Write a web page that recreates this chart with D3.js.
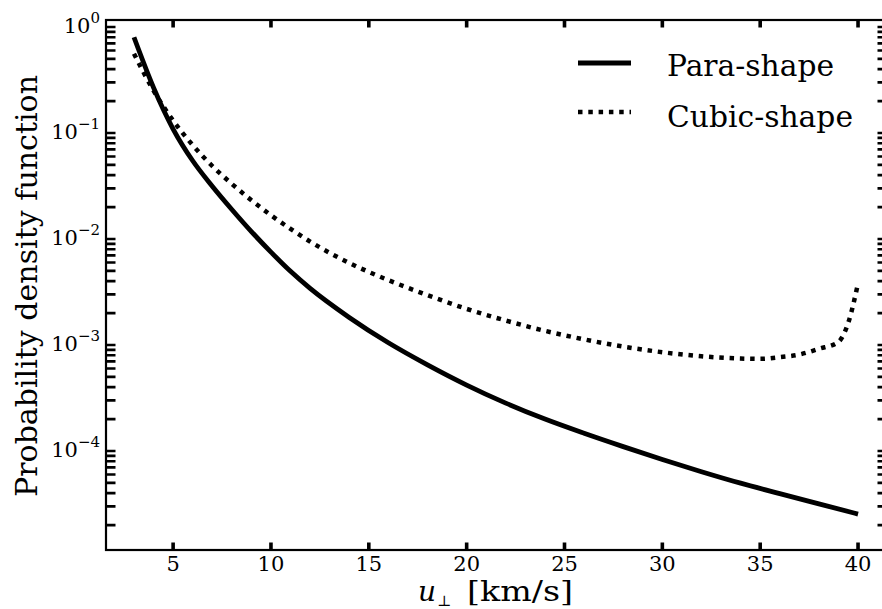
<!DOCTYPE html>
<html><head><meta charset="utf-8">
<script src="https://cdn.jsdelivr.net/npm/d3@7"></script>
<style>
html,body{margin:0;padding:0;background:#fff;} svg{display:block}
</style>
</head><body><svg id="c" width="882" height="609" font-family="DejaVu Serif"></svg>
<script>
// ---- data ----
const paraX = [3,4,5,6,7,8,9,10,11,12,14,16,18,20,22,24,26,28,30,32,34,36,38,40];
const paraY = [0.80,0.268,0.109,0.0547,0.0315,0.0190,0.01175,0.00752,0.00495,0.00342,0.00182,0.00105,0.00065,0.000419,0.000283,0.000200,0.000147,0.000110,0.0000832,0.0000638,0.0000497,0.0000396,0.0000317,0.0000254];
const cubicX = [3,4,5,6,7,8,9,10,11,12,13,14,15,16,18,20,22,24,26,28,30,32,34,35,36,37,38,39,39.5,40];
const cubicY = [0.56,0.251,0.131,0.0769,0.0488,0.0331,0.0232,0.01675,0.01245,0.00946,0.0074,0.00594,0.00489,0.00409,0.00295,0.00219,0.00170,0.00136,0.00113,0.000966,0.000855,0.000783,0.000745,0.00074,0.000767,0.000813,0.00092,0.00107,0.00162,0.00382];
const seriesNames = ["Para-shape", "Cubic-shape"];
const xTickValues = [5,10,15,20,25,30,35,40];
const yTickExponents = [0,-1,-2,-3,-4];
const xLabelMain = "u";
const xLabelSub = "\u22A5";
const xLabelUnit = "[km/s]";
const yLabel = "Probability density function";

// ---- layout ----
const L = 106, R = 887, T = 20, B = 550;
const svg = d3.select("#c");

const x = d3.scaleLinear().domain([1.57, 41.48]).range([L, R]);
const y = d3.scaleLog().domain([1.164e-5, 1.164]).range([B, T]);

function fit(sel, w) { sel.attr("textLength", w).attr("lengthAdjust", "spacingAndGlyphs"); return sel; }

// tick values from the log scale's decades
const yTickVals = [];
for (let k = -6; k <= 0; k++) for (let m = 1; m <= 9; m++) {
  const v = m * Math.pow(10, k);
  if (v >= y.domain()[0] && v <= y.domain()[1]) yTickVals.push(v);
}

// frame
svg.append("rect").attr("x", L).attr("y", T).attr("width", R - L).attr("height", B - T)
  .attr("fill", "none").attr("stroke", "black").attr("stroke-width", 2.2);
// y ticks (inward, left and right)
const yp = d3.path();
yTickVals.forEach(v => { const py = y(v); yp.moveTo(L, py); yp.lineTo(L + 9.5, py); yp.moveTo(R - 9.5, py); yp.lineTo(R, py); });
svg.append("path").attr("d", yp.toString()).attr("fill", "none")
  .attr("stroke", "black").attr("stroke-width", 2.6);
// x ticks (inward, bottom and top)
const xp = d3.path();
xTickValues.forEach(v => { const px = x(v); xp.moveTo(px, B); xp.lineTo(px, B - 7.5); xp.moveTo(px, T); xp.lineTo(px, T + 7.5); });
svg.append("path").attr("d", xp.toString()).attr("fill", "none")
  .attr("stroke", "black").attr("stroke-width", 3.6);

// curves
svg.append("clipPath").attr("id", "clip").append("rect")
  .attr("x", L).attr("y", T).attr("width", R - L).attr("height", B - T);
const line = d3.line().x(d => x(d[0])).y(d => y(d[1])).curve(d3.curveMonotoneX);
const g = svg.append("g").attr("clip-path", "url(#clip)");
g.append("path").datum(paraX.map((v, i) => [v, paraY[i]]))
  .attr("d", line).attr("fill", "none").attr("stroke", "#000").attr("stroke-width", 4.8);
g.append("path").datum(cubicX.map((v, i) => [v, cubicY[i]]))
  .attr("d", line).attr("fill", "none").attr("stroke", "#000").attr("stroke-width", 4.5)
  .attr("stroke-dasharray", "4.5,5.8");

// x tick labels
svg.append("g").selectAll("text").data(xTickValues).join("text")
  .attr("x", d => x(d)).attr("y", 571).attr("text-anchor", "middle")
  .attr("font-size", 21).text(d => d);

// y tick labels 10^k
const yl = svg.append("g").selectAll("text").data(yTickExponents).join("text")
  .attr("x", 100).attr("y", d => y(Math.pow(10, d)) + 6).attr("text-anchor", "end")
  .attr("font-size", 21);
yl.append("tspan").text("10");
yl.append("tspan").attr("dy", -10).attr("font-size", 15)
  .text(d => d === 0 ? "0" : "\u2212" + (-d));

// x label
svg.append("text").attr("x", 418).attr("y", 601).attr("font-size", 28)
  .attr("font-style", "italic").text(xLabelMain);
svg.append("text").attr("x", 437).attr("y", 606).attr("font-size", 15).text(xLabelSub);
svg.append("text").attr("x", 467).attr("y", 601).attr("font-size", 27)
  .text(xLabelUnit).call(fit, 106);

// y label
svg.append("text").attr("transform", `translate(37,${(T + B) / 2 + 1}) rotate(-90)`)
  .attr("text-anchor", "middle").attr("font-size", 29)
  .text(yLabel).call(fit, 422);

// legend
const legY = [63, 112];
const legBase = [76, 127];
const legW = [167, 186];
svg.append("line").attr("x1", 578).attr("x2", 631).attr("y1", legY[0]).attr("y2", legY[0])
  .attr("stroke", "#000").attr("stroke-width", 4.8);
svg.append("line").attr("x1", 578).attr("x2", 631).attr("y1", legY[1]).attr("y2", legY[1])
  .attr("stroke", "#000").attr("stroke-width", 4.5).attr("stroke-dasharray", "4.5,5.8");
seriesNames.forEach((n, i) => {
  svg.append("text").attr("x", 667).attr("y", legBase[i]).attr("font-size", 30)
    .text(n).call(fit, legW[i]);
});
</script></body></html>
